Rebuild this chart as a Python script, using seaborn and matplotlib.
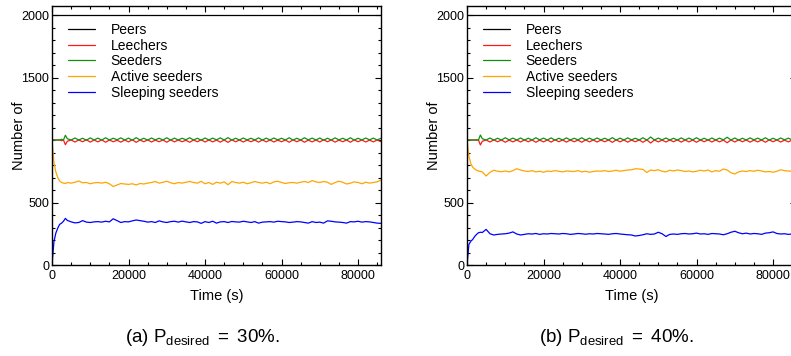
import matplotlib
matplotlib.use("Agg")
import matplotlib.pyplot as plt
from matplotlib.ticker import MultipleLocator, FixedLocator
import seaborn as sns

# ---------------- data ----------------
time_s = [0, 500, 1000, 1500, 2000, 2500, 3000, 3500, 4000] + list(range(5000, 86001, 1000))

peers = [2000] * len(time_s)

leechers_a = [
    1000, 1000, 1000, 1000, 1000, 995, 1000, 962, 990,
    1000, 984, 1000, 986, 1002, 983, 1000, 985, 1001, 982,
    1000, 986, 998, 983, 1000, 985, 1002, 981, 1000, 986,
    1001, 984, 999, 986, 1000, 982, 1001, 985, 1000, 986,
    998, 982, 1000, 986, 1002, 984, 1000, 985, 999, 983,
    1000, 981, 1001, 986, 1000, 984, 999, 986, 1000, 983,
    1001, 985, 1000, 984, 999, 986, 1000, 982, 1001, 986,
    1000, 982, 999, 985, 1000, 984, 1002, 986, 1000, 983,
    999, 986, 1000, 982, 1001, 986, 1000, 984, 999, 985,
    1000, 986,
]
seeders_a = [
    1000, 1000, 1000, 1000, 1000, 1005, 1000, 1038, 1010,
    1000, 1016, 1000, 1014, 998, 1017, 1000, 1015, 999, 1018,
    1000, 1014, 1002, 1017, 1000, 1015, 998, 1019, 1000, 1014,
    999, 1016, 1001, 1014, 1000, 1018, 999, 1015, 1000, 1014,
    1002, 1018, 1000, 1014, 998, 1016, 1000, 1015, 1001, 1017,
    1000, 1019, 999, 1014, 1000, 1016, 1001, 1014, 1000, 1017,
    999, 1015, 1000, 1016, 1001, 1014, 1000, 1018, 999, 1014,
    1000, 1018, 1001, 1015, 1000, 1016, 998, 1014, 1000, 1017,
    1001, 1014, 1000, 1018, 999, 1014, 1000, 1016, 1001, 1015,
    1000, 1014,
]
active_a = [
    1000, 820, 745, 700, 672, 660, 655, 652, 660,
    655, 662, 672, 658, 660, 650, 657, 660, 655, 662,
    650, 628, 640, 652, 648, 645, 650, 640, 652, 648,
    655, 660, 668, 655, 662, 670, 658, 650, 660, 655,
    662, 668, 660, 655, 670, 650, 660, 645, 662, 655,
    665, 642, 668, 660, 655, 662, 650, 658, 668, 660,
    655, 662, 650, 665, 670, 660, 652, 658, 660, 655,
    662, 668, 660, 675, 665, 660, 668, 662, 645, 660,
    670, 662, 648, 655, 665, 660, 650, 662, 655, 660,
    665, 680,
]
sleeping_a = [
    0, 185, 255, 295, 325, 335, 350, 373, 357,
    345, 337, 340, 355, 343, 340, 345, 347, 343, 350,
    345, 370, 355, 340, 347, 345, 353, 360, 355, 350,
    343, 347, 340, 353, 345, 340, 347, 350, 343, 351,
    345, 340, 347, 345, 333, 347, 340, 350, 335, 345,
    347, 340, 348, 345, 343, 350, 345, 340, 347, 335,
    343, 345, 347, 343, 350, 347, 345, 340, 343, 347,
    345, 340, 335, 347, 340, 343, 335, 353, 350, 345,
    343, 340, 335, 347, 345, 350, 343, 347, 345, 340,
    335, 333,
]

leechers_b = [
    1000, 1000, 1000, 1000, 1000, 998, 1000, 960, 990,
    1000, 984, 1001, 986, 1000, 982, 999, 985, 1000, 984,
    1001, 986, 1000, 982, 999, 985, 1000, 983, 1002, 986,
    1000, 983, 1000, 986, 999, 982, 1001, 985, 1000, 984,
    999, 986, 1000, 981, 1001, 985, 1000, 983, 999, 986,
    1000, 982, 1001, 976, 1000, 985, 999, 984, 1000, 986,
    1001, 983, 1000, 985, 999, 982, 1000, 986, 1001, 984,
    1000, 985, 999, 978, 1000, 984, 1001, 986, 1000, 983,
    999, 985, 1000, 982, 1001, 986, 1000, 984, 999, 985,
    1000, 986,
]
seeders_b = [
    1000, 1000, 1000, 1000, 1000, 1002, 1000, 1040, 1010,
    1000, 1016, 999, 1014, 1000, 1018, 1001, 1015, 1000, 1016,
    999, 1014, 1000, 1018, 1001, 1015, 1000, 1017, 998, 1014,
    1000, 1017, 1000, 1014, 1001, 1018, 999, 1015, 1000, 1016,
    1001, 1014, 1000, 1019, 999, 1015, 1000, 1017, 1001, 1014,
    1000, 1018, 999, 1024, 1000, 1015, 1001, 1016, 1000, 1014,
    999, 1017, 1000, 1015, 1001, 1018, 1000, 1014, 999, 1016,
    1000, 1015, 1001, 1022, 1000, 1016, 999, 1014, 1000, 1017,
    1001, 1015, 1000, 1018, 999, 1014, 1000, 1016, 1001, 1015,
    1000, 1014,
]
active_b = [
    1000, 870, 810, 782, 768, 758, 752, 748, 745,
    712, 742, 758, 750, 746, 752, 745, 755, 770, 760,
    752, 748, 755, 745, 750, 742, 752, 748, 755, 750,
    745, 752, 750, 748, 755, 745, 750, 742, 748, 752,
    750, 755, 748, 752, 758, 750, 755, 760, 762, 770,
    768, 765, 740, 760, 755, 762, 750, 745, 758, 752,
    760, 755, 748, 752, 745, 750, 758, 752, 760, 745,
    755, 750, 768, 760, 738, 728, 745, 752, 748, 755,
    750, 758, 752, 745, 748, 742, 750, 762, 755, 752,
    750, 755,
]
sleeping_b = [
    0, 165, 190, 205, 228, 245, 258, 262, 260,
    285, 250, 240, 245, 248, 250, 255, 265, 248, 240,
    245, 250, 248, 252, 245, 250, 248, 252, 250, 248,
    252, 250, 245, 248, 252, 250, 246, 250, 248, 252,
    250, 248, 245, 250, 252, 248, 245, 242, 240, 232,
    236, 242, 250, 245, 248, 262, 250, 228, 245, 248,
    245, 250, 252, 248, 250, 255, 248, 250, 245, 252,
    250, 248, 242, 250, 262, 270, 258, 250, 255, 248,
    252, 250, 245, 255, 258, 265, 252, 248, 250, 245,
    248, 245,
]

series_names = ["Peers", "Leechers", "Seeders", "Active seeders", "Sleeping seeders"]
series_colors = ["black", "#ff1a1a", "#138f13", "#ffa500", "#0000ff"]
y_ticks = [0, 500, 1500, 2000]
captions = [r"(a) P$_{\rm desired}$ $=$ 30%.", r"(b) P$_{\rm desired}$ $=$ 40%."]

panels = [
    [peers, leechers_a, seeders_a, active_a, sleeping_a],
    [peers, leechers_b, seeders_b, active_b, sleeping_b],
]

# ---------------- style ----------------
sns.set_style("ticks")
plt.rcParams["font.family"] = ["Liberation Sans", "DejaVu Sans"]
plt.rcParams["mathtext.fontset"] = "custom"
plt.rcParams["mathtext.rm"] = "Liberation Sans"
plt.rcParams["mathtext.it"] = "Liberation Sans:italic"
for k in ["text.color", "axes.labelcolor", "xtick.color", "ytick.color", "axes.edgecolor"]:
    plt.rcParams[k] = "black"

W, H = 791, 356
fig = plt.figure(figsize=(W / 100, H / 100), dpi=100)

ax_left_px = [52, 467]
ax_w_px, ax_bottom_px, ax_h_px = 329, 91, 259
caption_x_px = [202, 616]

for i, data in enumerate(panels):
    ax = fig.add_axes([ax_left_px[i] / W, ax_bottom_px / H, ax_w_px / W, ax_h_px / H])
    for vals, name, col in zip(data, series_names, series_colors):
        sns.lineplot(x=time_s, y=vals, ax=ax, color=col, linewidth=0.9, label=name)
    ax.set_xlim(0, 86000)
    ax.set_ylim(0, 2072)
    ax.yaxis.set_major_locator(FixedLocator(y_ticks))
    ax.yaxis.set_minor_locator(MultipleLocator(100))
    ax.xaxis.set_major_locator(MultipleLocator(20000))
    ax.xaxis.set_minor_locator(MultipleLocator(5000))
    ax.tick_params(which="both", direction="in", top=True, right=True,
                   labelsize=9, width=0.8, color="black", labelcolor="black")
    ax.tick_params(axis="x", pad=3.5)
    ax.tick_params(axis="y", pad=2)
    ax.tick_params(which="major", length=4.5)
    ax.tick_params(which="minor", length=2.5)
    for sp in ax.spines.values():
        sp.set_linewidth(1.0)
        sp.set_color("black")
    ax.set_xlabel("Time (s)", fontsize=10.5, labelpad=5)
    ax.set_ylabel("Number of", fontsize=10.5)
    ax.yaxis.set_label_coords(-0.078, 0.5)
    ax.legend(loc="upper left", bbox_to_anchor=(0.022, 0.967), frameon=False,
              fontsize=10, handlelength=2.0, handletextpad=1.1,
              labelspacing=0.12, borderaxespad=0.2)
    fig.text(caption_x_px[i] / W, 1 - 337 / H, captions[i],
             ha="center", va="center", fontsize=13.5)

fig.savefig("out.png", dpi=100)
